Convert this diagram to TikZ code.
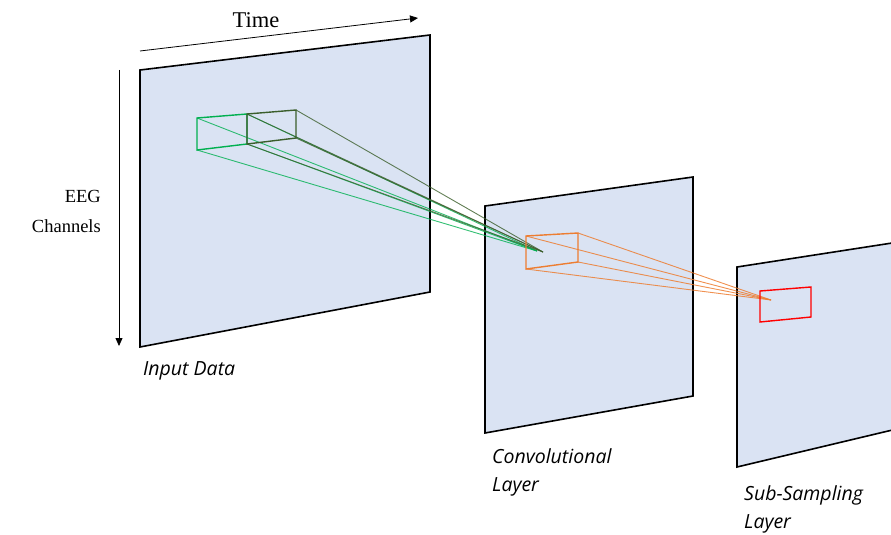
\documentclass[tikz,border=0pt]{standalone}
\usepackage{fontspec}
\setmainfont{Liberation Serif}
\newfontfamily\labelfont{Open Sans}
\usetikzlibrary{arrows.meta}
\definecolor{sheet}{HTML}{DAE3F3}
\definecolor{kgreen}{HTML}{00B050}
\definecolor{kdark}{HTML}{3B5E2B}
\definecolor{korange}{HTML}{ED7D31}
\definecolor{kred}{HTML}{FF0000}
\tikzset{
  sheetface/.style={fill=sheet, draw=black, line width=1.6pt, line join=miter},
  axisarrow/.style={draw=black, line width=0.8pt, -{Triangle[length=8pt,width=7pt]}},
  axislabel/.style={inner sep=0pt},
  layerlabel/.style={font=\labelfont\itshape\fontsize{19.5}{28}\selectfont, inner sep=0pt, anchor=west, align=left},
  lightbox/.style={draw=kgreen, line width=1.4pt},
  darkbox/.style={draw=kdark, line width=1.4pt},
  lightray/.style={draw=kgreen, line width=0.9pt, opacity=0.8},
  darkray/.style={draw=kdark, line width=0.9pt, opacity=0.8},
  orangebox/.style={draw=korange, line width=1.4pt},
  orangeray/.style={draw=korange, line width=0.9pt, opacity=0.85},
  redbox/.style={draw=kred, line width=1.4pt},
}
\begin{document}
\begin{tikzpicture}[x=1pt, y=-1pt]
\useasboundingbox (0,0) rectangle (891,535);
\clip (0,0) rectangle (891,535);

% three feature sheets
\draw[sheetface] (140,70) -- (430,35) -- (430,292) -- (140,347) -- cycle;
\draw[sheetface] (485,206) -- (693,177) -- (693,396) -- (485,433) -- cycle;
\draw[sheetface] (737,267) -- (905,241) -- (905,427) -- (737,467) -- cycle;

% axes of the input sheet
\coordinate (t0) at (140,51);
\coordinate (t1) at (418,18);
\draw[axisarrow] (t0) -- (t1);
\node[axislabel, font=\fontsize{22.5}{26}\selectfont] (time) at (256,20) {Time};
\coordinate (c0) at (119,70);
\coordinate (c1) at (119,346);
\draw[axisarrow] (c0) -- (c1);
\node[axislabel, align=right, anchor=east, font=\fontsize{18.5}{30}\selectfont] (eeg) at (101,211) {EEG\\Channels};

% kernel on the input sheet
\coordinate (a1) at (197,118);
\coordinate (a2) at (247,114);
\coordinate (a3) at (247,144);
\coordinate (a4) at (197,150);
\coordinate (b1) at (247,114);
\coordinate (b2) at (296,110);
\coordinate (b3) at (296,138);
\coordinate (b4) at (247,144);
\coordinate (g) at (537,251);
\coordinate (d) at (543,252);

\foreach \p in {a1,a2,a3,a4} \draw[lightray] (\p) -- (g);
\foreach \p in {b1,b2,b3,b4} \draw[darkray] (\p) -- (d);
\draw[lightbox] (a1) -- (a2) -- (a3) -- (a4) -- cycle;
\draw[darkbox] (b1) -- (b2) -- (b3) -- (b4) -- cycle;

% kernel on the convolutional sheet
\coordinate (o1) at (526,236);
\coordinate (o2) at (578,233);
\coordinate (o3) at (578,262);
\coordinate (o4) at (526,269);
\coordinate (r) at (771,300);
\foreach \p in {o1,o2,o3,o4} \draw[orangeray] (\p) -- (r);
\draw[orangebox] (o1) -- (o2) -- (o3) -- (o4) -- cycle;

% pooled window on the sub-sampling sheet
\coordinate (s1) at (760,291);
\coordinate (s2) at (811,287);
\coordinate (s3) at (811,317);
\coordinate (s4) at (760,322);
\draw[redbox] (s1) -- (s2) -- (s3) -- (s4) -- cycle;

% layer captions
\node[layerlabel] (in) at (143,371) {Input Data};
\node[layerlabel] (conv) at (492,472) {Convolutional\\Layer};
\node[layerlabel] (sub) at (744,509) {Sub-Sampling\\Layer};
\end{tikzpicture}
\end{document}
